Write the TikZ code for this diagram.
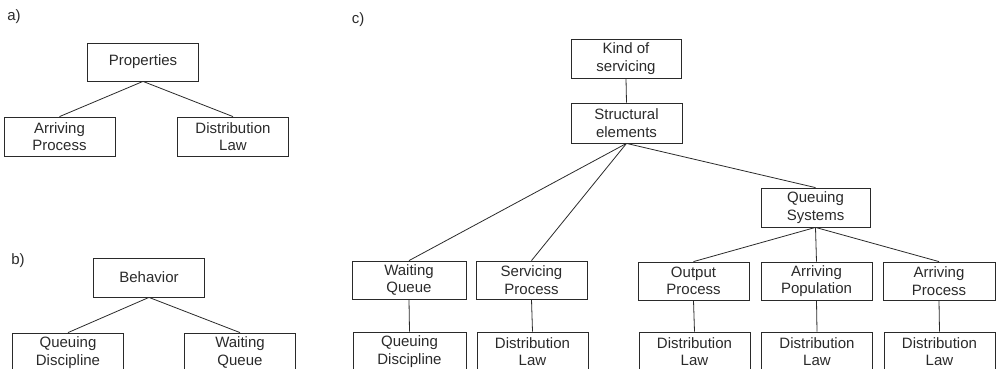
\documentclass[tikz,border=0pt]{standalone}
\usepackage{fontspec}
\setmainfont{Liberation Sans}
\definecolor{ink}{HTML}{2A2A2A}
\begin{document}
\begin{tikzpicture}[x=1pt,y=-1pt,
  box/.style={draw=ink,line width=0.8pt,text=ink,align=center,inner sep=0pt,
    minimum width=111pt,minimum height=38pt,
    font=\fontsize{15}{17.5}\selectfont},
  tag/.style={text=ink,inner sep=0pt,font=\fontsize{15}{17.5}\selectfont},
  link/.style={draw=ink,line width=0.8pt}]
\useasboundingbox (0,0) rectangle (997,369);
\clip (0,0) rectangle (997,369);

% a) properties
\node[tag] (la) at (14,17) {a)};
\node[box] (prop) at (143,62) {Properties};
\node[box,minimum height=39pt] (aarr) at (59.5,136.5) {Arriving\\Process};
\node[box,minimum height=39pt] (adist) at (233,136.5) {Distribution\\Law};
\draw[link] (prop.south) -- (aarr.north);
\draw[link] (prop.south) -- (adist.north);

% b) behavior
\node[tag] (lb) at (18,261) {b)};
\node[box,minimum height=39pt] (beh) at (149,277.5) {Behavior};
\node[box,minimum height=39pt] (bqd) at (68,352.5) {Queuing\\Discipline};
\node[box,minimum height=39pt] (bwq) at (240,352.5) {Waiting\\Queue};
\draw[link] (beh.south) -- (bqd.north);
\draw[link] (beh.south) -- (bwq.north);

% c) kind of servicing
\node[tag] (lc) at (358,20) {c)};
\node[box,minimum width=110pt,minimum height=39pt] (kind) at (626,58.5) {Kind of\\servicing};
\node[box,minimum height=40pt] (struct) at (626.5,123) {Structural\\elements};
\node[box,minimum width=109pt,minimum height=39pt] (qsys) at (815.5,207.5) {Queuing\\Systems};
\node[box,minimum width=114pt] (cwq) at (409,280) {Waiting\\Queue};
\node[box] (csp) at (531.5,280) {Servicing\\Process};
\node[box] (cop) at (693.5,281) {Output\\Process};
\node[box] (cap) at (816.5,281) {Arriving\\Population};
\node[box,minimum width=112pt] (carp) at (939,281) {Arriving\\Process};
\node[box,minimum width=113pt,minimum height=39pt] (cqd) at (409.5,351.5) {Queuing\\Discipline};
\node[box,minimum height=39pt] (cdl1) at (532.5,351.5) {Distribution\\Law};
\node[box,minimum height=39pt] (cdl2) at (694.5,351.5) {Distribution\\Law};
\node[box,minimum height=39pt] (cdl3) at (817,351.5) {Distribution\\Law};
\node[box,minimum height=39pt] (cdl4) at (939.5,351.5) {Distribution\\Law};

\draw[link] (kind.south) -- (struct.north);
\draw[link] (struct.south) -- (cwq.north);
\draw[link] (struct.south) -- (csp.north);
\draw[link] (struct.south) -- (qsys.north);
\draw[link] (qsys.south) -- (cop.north);
\draw[link] (qsys.south) -- (cap.north);
\draw[link] (qsys.south) -- (carp.north);
\draw[link] (cwq.south) -- (cqd.north);
\draw[link] (csp.south) -- (cdl1.north);
\draw[link] (cop.south) -- (cdl2.north);
\draw[link] (cap.south) -- (cdl3.north);
\draw[link] (carp.south) -- (cdl4.north);
\end{tikzpicture}
\end{document}
